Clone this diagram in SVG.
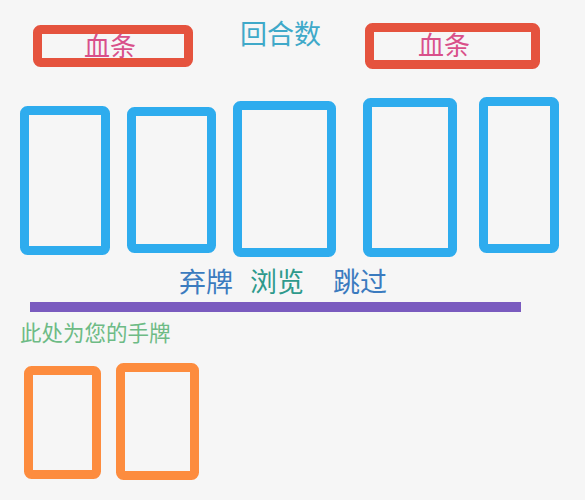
<svg xmlns="http://www.w3.org/2000/svg" width="585" height="500" viewBox="0 0 585 500">
  <style>
    .box { fill: none; stroke-width: 9; stroke-linejoin: round; }
    .red { stroke: #e5533e; }
    .blue { stroke: #2eacee; }
    .orange { stroke: #fd8c3e; }
    text { font-family: "Noto Sans CJK SC", "Noto Sans", sans-serif; }
    .hp { font-size: 26px; fill: #d9508a; }
    .act { font-size: 27px; }
  </style>
  <rect x="0" y="0" width="585" height="500" fill="#f6f6f6"/>
  <g id="hp-left">
    <rect class="box red" x="37.5" y="29.5" width="151" height="33" rx="3"/>
    <text class="hp" x="84" y="56">血条</text>
  </g>
  <g id="round-count">
    <text x="240" y="44" font-size="27" fill="#3fa9c9">回合数</text>
  </g>
  <g id="hp-right">
    <rect class="box red" x="369.5" y="27.5" width="166" height="37" rx="3"/>
    <text class="hp" x="418" y="55">血条</text>
  </g>
  <g id="card1"><rect class="box blue" x="24.5" y="110.5" width="81" height="140" rx="3"/></g>
  <g id="card2"><rect class="box blue" x="131.5" y="111.5" width="80" height="137" rx="3"/></g>
  <g id="card3"><rect class="box blue" x="237.5" y="105.5" width="94" height="147" rx="3"/></g>
  <g id="card4"><rect class="box blue" x="367.5" y="102.5" width="85" height="150" rx="3"/></g>
  <g id="card5"><rect class="box blue" x="483.5" y="101.5" width="71" height="147" rx="3"/></g>
  <g id="discard"><text class="act" x="179" y="292" fill="#3b7bbf">弃牌</text></g>
  <g id="browse"><text class="act" x="250" y="292" fill="#2e9a8c">浏览</text></g>
  <g id="skip"><text class="act" x="333" y="292" fill="#3b7bbf">跳过</text></g>
  <g id="divider"><rect x="30" y="302" width="491" height="10" fill="#7a5bbf"/></g>
  <g id="hand-label"><text x="20" y="341" font-size="21.5" fill="#6dbb85">此处为您的手牌</text></g>
  <g id="hand1"><rect class="box orange" x="28.5" y="370.5" width="68" height="104" rx="3"/></g>
  <g id="hand2"><rect class="box orange" x="120.5" y="367.5" width="74" height="108" rx="3"/></g>
  <g id="connectors"></g>
</svg>
